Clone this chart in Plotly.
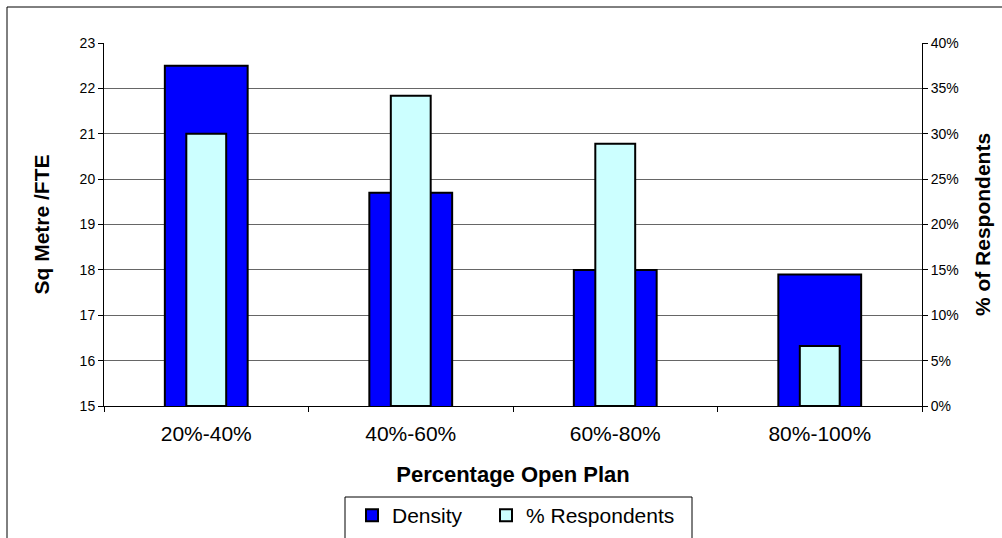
import plotly.graph_objects as go

# Office density vs. share of respondents by open-plan band
categories = ["20%-40%", "40%-60%", "60%-80%", "80%-100%"]
density = [22.5, 19.7, 18.0, 17.9]          # sq metre per FTE
respondents = [30.0, 34.2, 28.9, 6.6]       # % of respondents

W, H = 1002, 538
L, R, T, B = 104, 80, 43, 132
pw, ph = W - L - R, H - T - B


def px_x(px):
    return (px - L) / pw


def px_y(py):
    return (H - B - py) / ph


font = "Liberation Sans, Arial, sans-serif"

fig = go.Figure()
fig.add_trace(go.Bar(
    x=categories, y=density, name="Density", width=0.405,
    marker=dict(color="#0000FF", line=dict(color="#000000", width=2)),
    yaxis="y", legend="legend",
))
fig.add_trace(go.Bar(
    x=categories, y=respondents, name="% Respondents", width=0.195,
    marker=dict(color="#CCFFFF", line=dict(color="#000000", width=2)),
    yaxis="y2", legend="legend2",
))

legend_style = dict(
    orientation="h", yanchor="top", xanchor="left",
    font=dict(size=21, family=font), bgcolor="rgba(0,0,0,0)", borderwidth=0,
    itemwidth=30,
)

fig.update_layout(
    width=W, height=H,
    margin=dict(l=L, r=R, t=T, b=B, autoexpand=False),
    paper_bgcolor="white", plot_bgcolor="white",
    barmode="overlay",
    font=dict(family=font, color="#000000"),
    showlegend=True,
    legend=dict(x=px_x(352), y=px_y(495), **legend_style),
    legend2=dict(x=px_x(486), y=px_y(495), **legend_style),
    xaxis=dict(
        type="category", showline=True, linecolor="#000000", linewidth=1,
        ticks="outside", ticklen=5, tickcolor="#000000", tickson="boundaries",
        showgrid=False, tickfont=dict(size=21), ticklabelstandoff=9,
        title=dict(text="<b>Percentage Open Plan</b>", font=dict(size=22), standoff=22),
    ),
    yaxis=dict(
        range=[15, 23], dtick=1, showline=True, linecolor="#000000", linewidth=1,
        ticks="outside", ticklen=5, tickcolor="#000000",
        showgrid=True, gridcolor="#666666", gridwidth=1, zeroline=False,
        tickfont=dict(size=14), fixedrange=True,
        title=dict(text="<b>Sq Metre /FTE</b>", font=dict(size=21), standoff=24),
    ),
    yaxis2=dict(
        range=[0, 40], dtick=5, ticksuffix="%", overlaying="y", side="right",
        showline=True, linecolor="#000000", linewidth=1,
        ticks="outside", ticklen=5, tickcolor="#000000",
        showgrid=False, zeroline=False, tickfont=dict(size=14),
        title=dict(text="<b>% of Respondents</b>", font=dict(size=21), standoff=17),
    ),
    shapes=[
        # outer chart frame
        dict(type="rect", xref="paper", yref="paper",
             x0=px_x(7), x1=px_x(1010), y0=px_y(560), y1=px_y(7),
             line=dict(color="#000000", width=1), fillcolor="rgba(0,0,0,0)", layer="below"),
        # legend frame
        dict(type="rect", xref="paper", yref="paper",
             x0=px_x(345), x1=px_x(692), y0=px_y(560), y1=px_y(497),
             line=dict(color="#000000", width=1), fillcolor="rgba(0,0,0,0)", layer="below"),
    ],
)

fig.write_html("out.html")
